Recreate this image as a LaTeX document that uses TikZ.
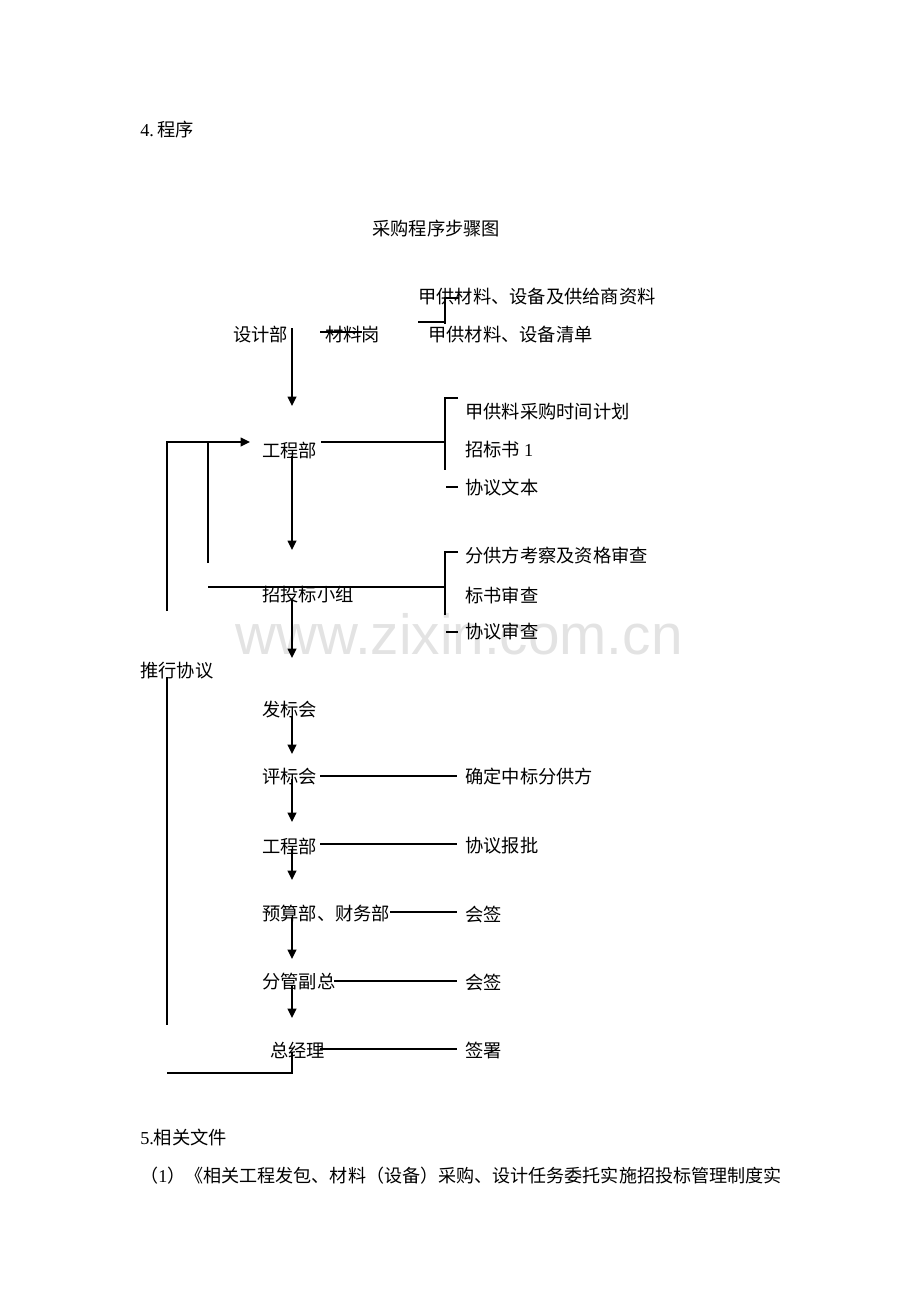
\documentclass[tikz,border=0pt]{standalone}
\usepackage{fontspec}
\setmainfont{Noto Sans CJK SC}
\newfontfamily\latin{Liberation Serif}
\newfontfamily\wmfont{Liberation Sans}
\usetikzlibrary{arrows.meta}

\definecolor{wmgray}{rgb}{0.89,0.89,0.89}

\begin{document}
\begin{tikzpicture}[x=0.75pt,y=-0.75pt,
        txt/.style={anchor=west,inner sep=0pt,font=\fontsize{13.7pt}{16pt}\selectfont},
        ln/.style={line width=0.8pt},
        arr/.style={line width=1.1pt,-{Triangle[length=7pt,width=6.5pt]}}]
        \useasboundingbox (0,0) rectangle (920,1302);
        % watermark
        \node[font=\wmfont\fontsize{42.5pt}{44pt}\selectfont,text=wmgray,inner sep=0pt] (wm) at (459,634) {www.zixin.com.cn};

        % headings
        \node[txt] (h4) at (140,130) {{\latin 4.\,}程序};
        \node[txt] (title) at (372,229) {采购程序步骤图};

        % top part
        \node[txt] (jgzl) at (418,297) {甲供材料、设备及供给商资料};
        \node[txt] (sjb) at (233,335) {设计部};
        \node[txt] (clg) at (325,335) {材料岗};
        \node[txt] (jgqd) at (428,335) {甲供材料、设备清单};
        \node[txt] (gcb) at (262,450) {工程部};
        \node[txt] (jhb) at (465,412) {甲供料采购时间计划};
        \node[txt] (zbs) at (465,450) {招标书 {\latin 1}};
        \node[txt] (xywb) at (465,488) {协议文本};
        \node[txt] (ztb) at (262,595) {招投标小组};
        \node[txt] (fgf) at (465,556) {分供方考察及资格审查};
        \node[txt] (bssc) at (465,595) {标书审查};
        \node[txt] (xysc) at (465,632) {协议审查};
        \node[txt] (txxy) at (140,671) {推行协议};

        % lower chain
        \node[txt] (fbh) at (262,710) {发标会};
        \node[txt] (pbh) at (262,777) {评标会};
        \node[txt] (qdzb) at (465,777) {确定中标分供方};
        \node[txt] (gcb2) at (262,846) {工程部};
        \node[txt] (xybp) at (465,846) {协议报批};
        \node[txt] (ysb) at (262,914) {预算部、财务部};
        \node[txt] (hq1) at (465,914) {会签};
        \node[txt] (fgfz) at (262,982) {分管副总};
        \node[txt] (hq2) at (465,982) {会签};
        \node[txt] (zjl) at (270,1050) {总经理};
        \node[txt] (qs) at (465,1050) {签署};

        \node[txt] (xgwj) at (140,1137) {{\latin 5.}相关文件};
        \node[txt,font=\fontsize{13.55pt}{16pt}\selectfont] (wj1) at (140,1176) {（{\latin 1}）《相关工程发包、材料（设备）采购、设计任务委托实施招投标管理制度实};

        % spine points
        \coordinate (s1) at (292,328);  \coordinate (t1) at (292,406);
        \coordinate (s2) at (292,456);  \coordinate (t2) at (292,550);
        \coordinate (s3) at (292,600);  \coordinate (t3) at (292,658);
        \coordinate (s4) at (292,716);  \coordinate (t4) at (292,754);
        \coordinate (s5) at (292,779);  \coordinate (t5) at (292,822);
        \coordinate (s6) at (292,849);  \coordinate (t6) at (292,880);
        \coordinate (s7) at (292,917);  \coordinate (t7) at (292,959);
        \coordinate (s8) at (292,985);  \coordinate (t8) at (292,1018);
        \draw[arr] (s1) -- (t1);
        \draw[arr] (s2) -- (t2);
        \draw[arr] (s3) -- (t3);
        \draw[arr] (s4) -- (t4);
        \draw[arr] (s5) -- (t5);
        \draw[arr] (s6) -- (t6);
        \draw[arr] (s7) -- (t7);
        \draw[arr] (s8) -- (t8);

        % brackets
        \coordinate (b1t) at (445,298); \coordinate (b1b) at (445,324);
        \draw[ln] (459,298) -- (b1t) -- (b1b);
        \draw[ln] (418,322) -- (445,322);
        \draw[ln] (320,332) -- (362,332);
        \coordinate (b2t) at (445,398); \coordinate (b2b) at (445,470);
        \draw[ln] (458,398) -- (b2t) -- (b2b);
        \draw[ln] (gcb.east |- 0,442) ++(4,0) -- (445,442);
        \draw[ln] (446,487) -- (458,487);
        \coordinate (b3t) at (445,552); \coordinate (b3b) at (445,615);
        \draw[ln] (458,552) -- (b3t) -- (b3b);
        \draw[ln] (208,587) -- (445,587);
        \draw[ln] (446,632) -- (458,632);

        % feedback loops
        \coordinate (lp) at (250,442);
        \draw[arr] (167,611) -- (167,442) -- (lp);
        \draw[ln] (208,563) -- (208,442);
        \draw[ln] (167,677) -- (167,1025);
        \draw[ln] (292,1052) -- (292,1073) -- (167,1073);

        % side lines
        \draw[ln] (320,776) -- (457,776);
        \draw[ln] (320,844) -- (457,844);
        \draw[ln] (390,912) -- (457,912);
        \draw[ln] (334,981) -- (457,981);
        \draw[ln] (320,1049) -- (457,1049);
\end{tikzpicture}
\end{document}
